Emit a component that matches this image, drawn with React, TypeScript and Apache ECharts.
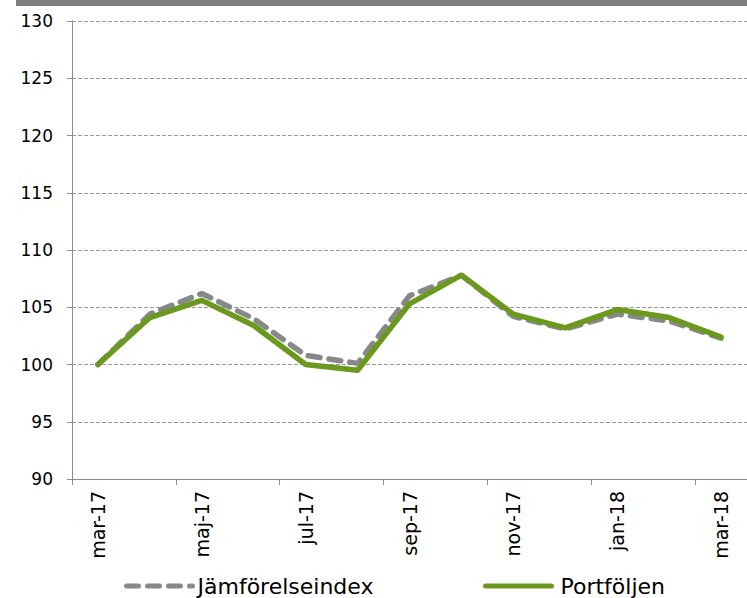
import React, { useEffect, useRef } from "react";
import * as echarts from "echarts";

const categories = [
  "mar-17", "apr-17", "maj-17", "jun-17", "jul-17", "aug-17", "sep-17",
  "okt-17", "nov-17", "dec-17", "jan-18", "feb-18", "mar-18",
];
const benchmark = [100, 104.4, 106.2, 104.0, 100.8, 100.1, 106.0, 107.8, 104.2, 103.1, 104.4, 103.8, 102.3];
const portfolio = [100, 104.1, 105.6, 103.4, 100.0, 99.5, 105.3, 107.8, 104.4, 103.2, 104.8, 104.1, 102.4];
const yMin = 90;
const yMax = 130;
const yStep = 5;

const FONT = "DejaVu Sans, Verdana, sans-serif";
const GREEN = "#6B991E";
const GREY = "#888888";

export default function App() {
  const ref = useRef<HTMLDivElement>(null);
  useEffect(() => {
    if (!ref.current) return;
    const chart = echarts.init(ref.current, undefined, { renderer: "svg" });
    chart.setOption({
      animation: false,
      backgroundColor: "#ffffff",
      textStyle: { fontFamily: FONT },
      grid: { left: 72, top: 21, right: -14, bottom: 119, containLabel: false },
      graphic: [
        { type: "rect", left: 16, top: 0, shape: { width: 731, height: 6 }, style: { fill: "#808080" } },
      ],
      legend: [
        {
          data: ["Jämförelseindex"],
          left: 124,
          top: 575,
          padding: 0,
          itemWidth: 66,
          itemHeight: 22,
          itemStyle: { opacity: 0 },
          lineStyle: { width: 5, color: GREY, type: [12, 9], cap: "round" },
          textStyle: { fontFamily: FONT, fontSize: 22, color: "#000" },
        },
        {
          data: ["Portföljen"],
          left: 483,
          top: 575,
          padding: 0,
          itemWidth: 66,
          itemHeight: 22,
          itemStyle: { opacity: 0 },
          lineStyle: { width: 5, color: GREEN, cap: "round" },
          textStyle: { fontFamily: FONT, fontSize: 22, color: "#000", padding: [0, 0, 0, 4] },
        },
      ],
      xAxis: {
        type: "category",
        data: categories,
        boundaryGap: true,
        axisLine: { lineStyle: { color: "#8c8c8c", width: 1 } },
        axisTick: { show: true, interval: 1, length: 6, lineStyle: { color: "#8c8c8c" } },
        axisLabel: {
          interval: 1,
          rotate: 90,
          margin: 12,
          fontFamily: FONT,
          fontSize: 19,
          color: "#000",
        },
        splitLine: { show: false },
      },
      yAxis: {
        type: "value",
        min: yMin,
        max: yMax,
        interval: yStep,
        axisLine: { show: true, lineStyle: { color: "#8c8c8c", width: 1 } },
        axisTick: { show: true, length: 5, lineStyle: { color: "#8c8c8c" } },
        axisLabel: { margin: 19, fontFamily: FONT, fontSize: 17, color: "#000" },
        splitLine: { show: true, lineStyle: { color: "#999999", type: [4, 2], width: 1 } },
      },
      series: [
        {
          name: "Jämförelseindex",
          type: "line",
          data: benchmark,
          symbol: "none",
          lineStyle: { color: GREY, width: 5.5, type: [12, 9], cap: "round" },
          itemStyle: { color: GREY },
        },
        {
          name: "Portföljen",
          type: "line",
          data: portfolio,
          symbol: "none",
          lineStyle: { color: GREEN, width: 5.5, cap: "round", join: "round" },
          itemStyle: { color: GREEN },
        },
      ],
    });
    return () => chart.dispose();
  }, []);
  return (
    <div
      ref={ref}
      style={{ position: "fixed", left: 0, top: 0, width: 747, height: 598 }}
    />
  );
}
